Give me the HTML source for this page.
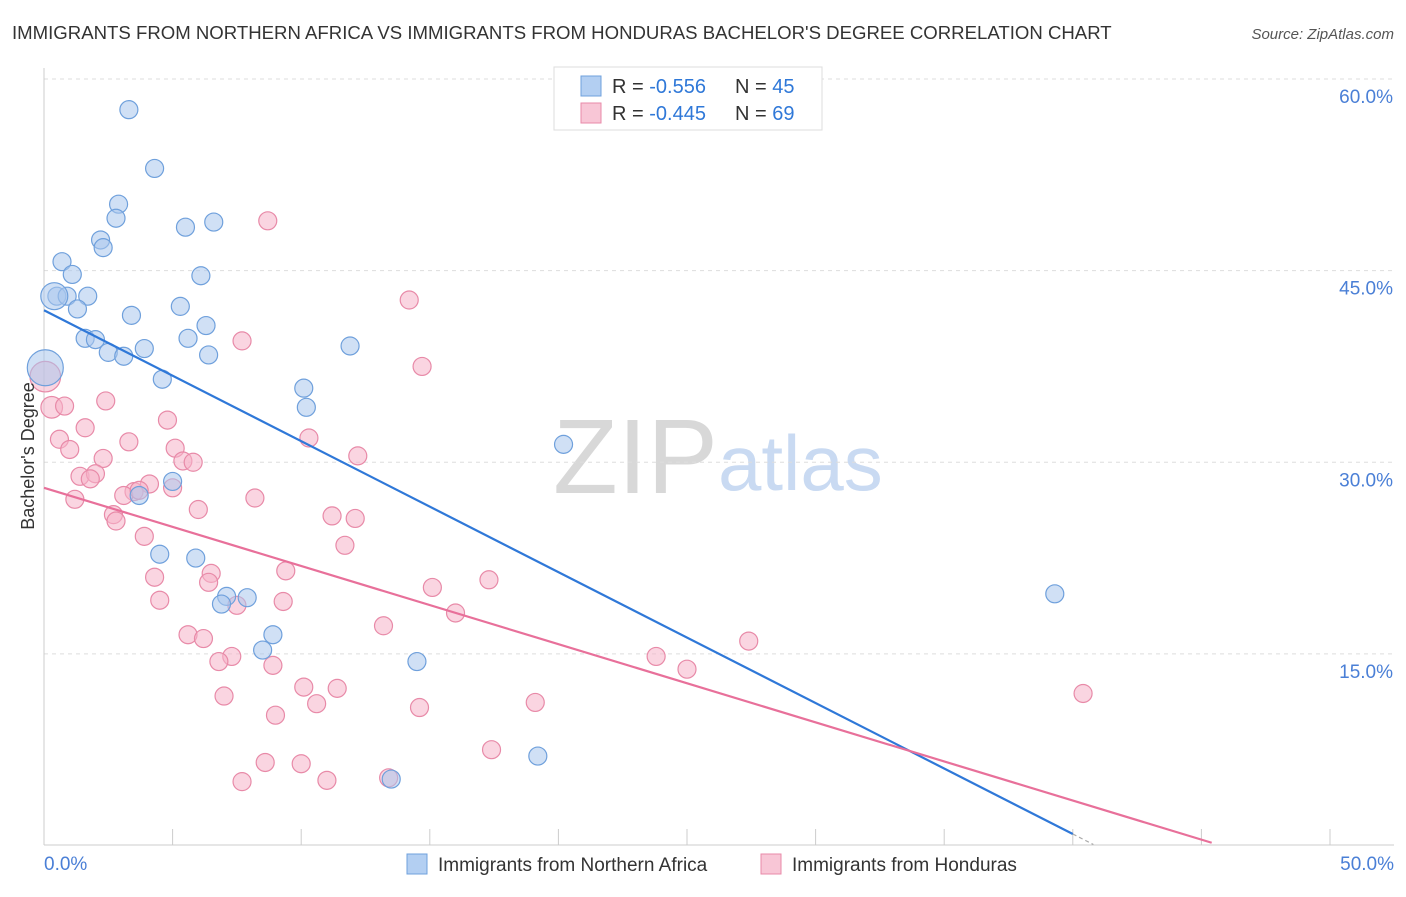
<!DOCTYPE html>
<html><head><meta charset="utf-8"><style>
body{margin:0;background:#fff;font-family:"Liberation Sans",sans-serif;}
svg text{font-family:"Liberation Sans",sans-serif;}
</style></head><body>
<svg id="chart" width="1406" height="892">
<text x="12" y="39" font-size="18.6" fill="#333">IMMIGRANTS FROM NORTHERN AFRICA VS IMMIGRANTS FROM HONDURAS BACHELOR'S DEGREE CORRELATION CHART</text>
<text x="1394" y="39" font-size="15" fill="#555" text-anchor="end" font-style="italic">Source: ZipAtlas.com</text>
<g>
<text x="553" y="493" font-size="106" fill="#d8d8d8" font-family="Liberation Serif">ZIP</text>
<text x="718" y="490" font-size="78" fill="#c9daf2">atlas</text>
</g>
<g id="grid"></g><g id="axes"></g><g id="pts"></g><g id="lines"></g>
<text transform="translate(34,456) rotate(-90)" font-size="18" fill="#333" text-anchor="middle">Bachelor's Degree</text>
<g>
<rect x="554" y="67" width="268" height="63" fill="#fff" stroke="#ddd"/>
<rect x="581" y="76" width="20" height="20" fill="#b3cff2" stroke="#6fa0dc"/>
<text x="612" y="93" font-size="20" fill="#333">R = <tspan fill="#2f78d8">-0.556</tspan></text>
<text x="735" y="93" font-size="20" fill="#333">N = <tspan fill="#2f78d8">45</tspan></text>
<rect x="581" y="103" width="20" height="20" fill="#f8c6d6" stroke="#e88aa8"/>
<text x="612" y="120" font-size="20" fill="#333">R = <tspan fill="#2f78d8">-0.445</tspan></text>
<text x="735" y="120" font-size="20" fill="#333">N = <tspan fill="#2f78d8">69</tspan></text>
</g>
<g>
<rect x="407" y="854" width="20" height="20" fill="#b3cff2" stroke="#6fa0dc"/>
<text x="438" y="871" font-size="19" fill="#333">Immigrants from Northern Africa</text>
<rect x="761" y="854" width="20" height="20" fill="#f8c6d6" stroke="#e88aa8"/>
<text x="792" y="871" font-size="19" fill="#333">Immigrants from Honduras</text>
</g>
</svg>
<script>
const yTicks=[15,30,45,60];
const yTickLabels=["15.0%","30.0%","45.0%","60.0%"];
const xTickLabels=["0.0%","50.0%"];
const blueX=[3.3,4.3,2.9,2.8,5.5,6.6,2.2,2.3,0.7,1.1,6.1,0.5,0.9,1.7,1.3,5.3,3.4,6.3,1.6,2.0,5.6,3.9,2.5,3.1,6.4,11.9,4.6,10.1,10.2,20.2,5.0,3.7,4.5,5.9,7.1,7.9,6.9,8.9,8.5,14.5,39.3,19.2,13.5,0.05,0.4];
const blueY=[57.6,53.0,50.2,49.1,48.4,48.8,47.4,46.8,45.7,44.7,44.6,43.0,43.0,43.0,42.0,42.2,41.5,40.7,39.7,39.6,39.7,38.9,38.6,38.3,38.4,39.1,36.5,35.8,34.3,31.4,28.5,27.4,22.8,22.5,19.5,19.4,18.9,16.5,15.3,14.4,19.7,7.0,5.2,37.4,43.0];
const blueSize=[1,1,1,1,1,1,1,1,1,1,1,1,1,1,1,1,1,1,1,1,1,1,1,1,1,1,1,1,1,1,1,1,1,1,1,1,1,1,1,1,1,1,1,2,1.5];
const pinkX=[8.7,14.2,7.7,14.7,0.05,0.3,0.8,2.4,4.8,1.6,0.6,10.3,3.3,5.1,1.0,12.2,2.3,5.4,5.8,1.4,2.0,1.8,4.1,5.0,3.5,3.1,8.2,3.7,1.2,6.0,2.7,2.8,11.2,12.1,3.9,11.7,9.4,6.5,4.3,17.3,6.4,15.1,4.5,9.3,7.5,16.0,13.2,5.6,6.2,27.4,7.3,6.8,23.8,25.0,8.9,7.0,10.1,11.4,40.4,10.6,19.1,14.6,9.0,17.4,8.6,10.0,7.7,11.0,13.4];
const pinkY=[48.9,42.7,39.5,37.5,36.7,34.3,34.4,34.8,33.3,32.7,31.8,31.9,31.6,31.1,31.0,30.5,30.3,30.1,30.0,28.9,29.1,28.7,28.3,28.0,27.7,27.4,27.2,27.8,27.1,26.3,25.9,25.4,25.8,25.6,24.2,23.5,21.5,21.3,21.0,20.8,20.6,20.2,19.2,19.1,18.8,18.2,17.2,16.5,16.2,16.0,14.8,14.4,14.8,13.8,14.1,11.7,12.4,12.3,11.9,11.1,11.2,10.8,10.2,7.5,6.5,6.4,5.0,5.1,5.3];
const pinkSize=[1,1,1,1,1.7,1.2,1,1,1,1,1,1,1,1,1,1,1,1,1,1,1,1,1,1,1,1,1,1,1,1,1,1,1,1,1,1,1,1,1,1,1,1,1,1,1,1,1,1,1,1,1,1,1,1,1,1,1,1,1,1,1,1,1,1,1,1,1,1,1];
const blueFit=[41.9,-1.025];
const pinkFit=[28.0,-0.612];
const NS="http://www.w3.org/2000/svg";
const X0=44,X1=1330,Y0=845.5,Y60=79;
const sx=v=>X0+(X1-X0)*v/50;
const sy=v=>Y0-(Y0-Y60)*v/60;
function mk(tag,attrs,parent){const e=document.createElementNS(NS,tag);for(const k in attrs)e.setAttribute(k,attrs[k]);parent.appendChild(e);return e;}
const grid=document.getElementById('grid'),axes=document.getElementById('axes'),pts=document.getElementById('pts'),lines=document.getElementById('lines');
yTicks.forEach((t,i)=>{
 const l=mk('line',{x1:X0,x2:1394,y1:sy(t),y2:sy(t),stroke:'#ddd','stroke-dasharray':'4,4'},grid);
 
 
 const tx=mk('text',{x:1393,y:sy(t)+24,'font-size':19,fill:'#4a7fd6','text-anchor':'end'},axes);
 tx.textContent=yTickLabels[i];
 
 
});
const ax=mk('line',{x1:X0,x2:1394,y1:845,y2:845,stroke:'#ccc'},axes);


const ay=mk('line',{x1:X0,x2:X0,y1:68,y2:845,stroke:'#ccc'},axes);


for(let i=0;i<=10;i++){
 const t=mk('line',{x1:sx(i*5),x2:sx(i*5),y1:829,y2:845,stroke:'#ccc'},axes);
 
 
}
[[0,'start',44],[50,'end',1394]].forEach((d,i)=>{
 const t=mk('text',{x:d[2],y:870,'font-size':19,fill:'#4a7fd6','text-anchor':d[1]},axes);
 t.textContent=xTickLabels[i];
 
 
});
function drawPts(xs,ys,ss,fill,stroke,name){
 xs.forEach((x,i)=>{
  const c=mk('circle',{cx:sx(x),cy:sy(ys[i]),r:9*ss[i],fill:fill,'fill-opacity':0.55,stroke:stroke,'stroke-width':1.2},pts);
  
  
 });
}
drawPts(pinkX,pinkY,pinkSize,'#f5b3c8','#e88aa8','honduras-point');
drawPts(blueX,blueY,blueSize,'#a9c6ec','#6fa0dc','northern-africa-point');
function fitLine(f,xEnd,xDash,col,name){
 const a=mk('line',{x1:sx(0),y1:sy(f[0]),x2:sx(xEnd),y2:sy(f[0]+f[1]*xEnd),stroke:col,'stroke-width':2.2},lines);
 
 
 if(xDash>xEnd){
  const b=mk('line',{x1:sx(xEnd),y1:sy(f[0]+f[1]*xEnd),x2:sx(xDash),y2:sy(f[0]+f[1]*xDash),stroke:'#aaa','stroke-width':1.2,'stroke-dasharray':'4,3'},lines);
  
  
 }
}
fitLine(blueFit,40,40.8,'#2f78d8','northern-africa-trendline');
fitLine(pinkFit,45.4,45.4,'#e8709a','honduras-trendline');
</script>
</body></html>
